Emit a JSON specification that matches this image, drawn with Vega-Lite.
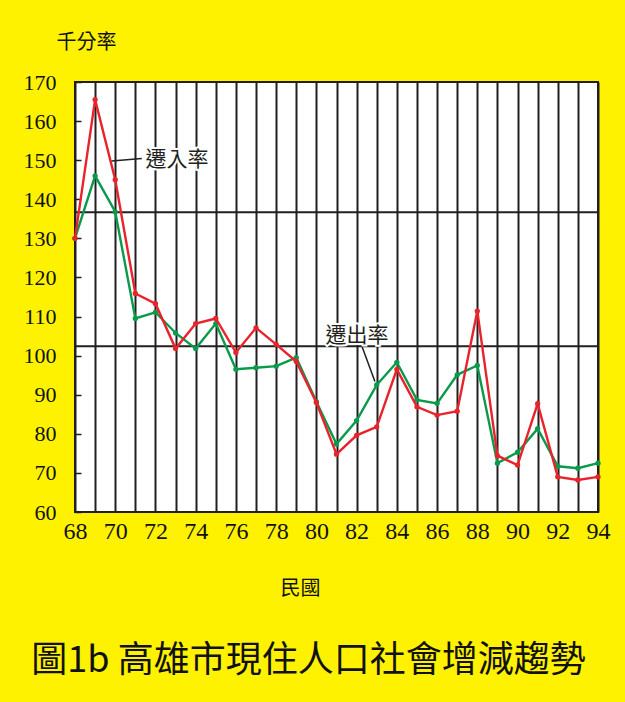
{
  "$schema": "https://vega.github.io/schema/vega-lite/v6.json",
  "width": 523,
  "height": 430,
  "autosize": {"type": "none"},
  "padding": {"left": 75, "top": 82, "right": 27, "bottom": 190},
  "background": "#fff200",
  "config": {
    "view": {"fill": "white", "stroke": "#231f20", "strokeWidth": 2},
    "font": "Noto Sans CJK TC"
  },
  "title": {
    "text": "圖1b 高雄市現住人口社會增減趨勢",
    "orient": "bottom",
    "anchor": "middle",
    "offset": 46,
    "dx": -28,
    "fontSize": 36,
    "fontWeight": "normal",
    "color": "#111111",
    "font": "Noto Sans CJK TC"
  },
  "datasets": {
    "rates": [
      {"year": 68, "series": "遷入率", "rate": 130}, {"year": 68, "series": "遷出率", "rate": 130},
      {"year": 69, "series": "遷入率", "rate": 165.5}, {"year": 69, "series": "遷出率", "rate": 146},
      {"year": 70, "series": "遷入率", "rate": 145}, {"year": 70, "series": "遷出率", "rate": 136.8},
      {"year": 71, "series": "遷入率", "rate": 115.9}, {"year": 71, "series": "遷出率", "rate": 109.5},
      {"year": 72, "series": "遷入率", "rate": 113.3}, {"year": 72, "series": "遷出率", "rate": 111.1},
      {"year": 73, "series": "遷入率", "rate": 101.8}, {"year": 73, "series": "遷出率", "rate": 105.8},
      {"year": 74, "series": "遷入率", "rate": 108.2}, {"year": 74, "series": "遷出率", "rate": 101.8},
      {"year": 75, "series": "遷入率", "rate": 109.5}, {"year": 75, "series": "遷出率", "rate": 108.2},
      {"year": 76, "series": "遷入率", "rate": 100.8}, {"year": 76, "series": "遷出率", "rate": 96.5},
      {"year": 77, "series": "遷入率", "rate": 107.1}, {"year": 77, "series": "遷出率", "rate": 96.9},
      {"year": 78, "series": "遷入率", "rate": 102.9}, {"year": 78, "series": "遷出率", "rate": 97.3},
      {"year": 79, "series": "遷入率", "rate": 98.5}, {"year": 79, "series": "遷出率", "rate": 99.5},
      {"year": 80, "series": "遷入率", "rate": 88}, {"year": 80, "series": "遷出率", "rate": 88.2},
      {"year": 81, "series": "遷入率", "rate": 74.8}, {"year": 81, "series": "遷出率", "rate": 77.4},
      {"year": 82, "series": "遷入率", "rate": 79.6}, {"year": 82, "series": "遷出率", "rate": 83.4},
      {"year": 83, "series": "遷入率", "rate": 81.8}, {"year": 83, "series": "遷出率", "rate": 92.5},
      {"year": 84, "series": "遷入率", "rate": 96.5}, {"year": 84, "series": "遷出率", "rate": 98.3},
      {"year": 85, "series": "遷入率", "rate": 86.9}, {"year": 85, "series": "遷出率", "rate": 88.7},
      {"year": 86, "series": "遷入率", "rate": 84.8}, {"year": 86, "series": "遷出率", "rate": 87.8},
      {"year": 87, "series": "遷入率", "rate": 85.8}, {"year": 87, "series": "遷出率", "rate": 95.1},
      {"year": 88, "series": "遷入率", "rate": 111.4}, {"year": 88, "series": "遷出率", "rate": 97.5},
      {"year": 89, "series": "遷入率", "rate": 74.4}, {"year": 89, "series": "遷出率", "rate": 72.5},
      {"year": 90, "series": "遷入率", "rate": 72}, {"year": 90, "series": "遷出率", "rate": 75.3},
      {"year": 91, "series": "遷入率", "rate": 87.7}, {"year": 91, "series": "遷出率", "rate": 81.3},
      {"year": 92, "series": "遷入率", "rate": 69}, {"year": 92, "series": "遷出率", "rate": 71.7},
      {"year": 93, "series": "遷入率", "rate": 68.2}, {"year": 93, "series": "遷出率", "rate": 71.2},
      {"year": 94, "series": "遷入率", "rate": 69}, {"year": 94, "series": "遷出率", "rate": 72.5}
    ],
    "refs": [
      {"year": 68, "year2": 94, "rate": 136.7},
      {"year": 68, "year2": 94, "rate": 102.4}
    ],
    "leaders": [
      {"year": 69.82, "rate": 149.8, "year2": 71.32, "rate2": 150.4},
      {"year": 82.25, "rate": 102.6, "year2": 82.91, "rate2": 93.4}
    ],
    "labels": [
      {"year": 71.5, "rate": 150, "text": "遷入率"},
      {"year": 80.45, "rate": 104.9, "text": "遷出率"}
    ]
  },
  "encoding": {
    "x": {
      "field": "year",
      "type": "quantitative",
      "scale": {"domain": [68, 94], "nice": false, "zero": false},
      "axis": {
        "values": [68, 69, 70, 71, 72, 73, 74, 75, 76, 77, 78, 79, 80, 81, 82, 83, 84, 85, 86, 87, 88, 89, 90, 91, 92, 93, 94],
        "labelExpr": "datum.value % 2 == 0 ? datum.label : ''",
        "grid": true,
        "gridColor": "#231f20",
        "gridWidth": 2,
        "gridOpacity": 1,
        "ticks": false,
        "domain": false,
        "labelFont": "Liberation Serif",
        "labelFontSize": 24,
        "labelColor": "#111111",
        "labelPadding": 7,
        "labelFlush": false,
        "labelOverlap": false,
        "title": "民國",
        "titleX": 225,
        "titleY": 76,
        "titleAlign": "center",
        "titleBaseline": "middle",
        "titleFontSize": 20,
        "titleFontWeight": "normal",
        "titleColor": "#111111",
        "titleFont": "Noto Sans CJK TC"
      }
    },
    "y": {
      "field": "rate",
      "type": "quantitative",
      "scale": {"domain": [60, 170], "nice": false, "zero": false},
      "axis": {
        "values": [60, 70, 80, 90, 100, 110, 120, 130, 140, 150, 160, 170],
        "grid": false,
        "domain": false,
        "ticks": true,
        "tickSize": -6,
        "tickColor": "#231f20",
        "tickWidth": 1.5,
        "labelFont": "Liberation Serif",
        "labelFontSize": 22,
        "labelColor": "#111111",
        "labelPadding": 25,
        "labelFlush": false,
        "labelOverlap": false,
        "title": "千分率",
        "titleAngle": 0,
        "titleX": 11,
        "titleY": -40,
        "titleAlign": "center",
        "titleBaseline": "middle",
        "titleFontSize": 20,
        "titleFontWeight": "normal",
        "titleColor": "#111111",
        "titleFont": "Noto Sans CJK TC"
      }
    }
  },
  "layer": [
    {
      "data": {"name": "refs"},
      "mark": {"type": "rule", "color": "#231f20", "strokeWidth": 2},
      "encoding": {"x2": {"field": "year2"}}
    },
    {
      "data": {"name": "rates"},
      "transform": [{"filter": "datum.series == '遷出率'"}],
      "mark": {"type": "line", "color": "#0b9a4c", "strokeWidth": 2.4, "point": {"filled": true, "size": 28, "color": "#0b9a4c"}}
    },
    {
      "data": {"name": "rates"},
      "transform": [{"filter": "datum.series == '遷入率'"}],
      "mark": {"type": "line", "color": "#e8232b", "strokeWidth": 2.4, "point": {"filled": true, "size": 28, "color": "#e8232b"}}
    },
    {
      "data": {"name": "leaders"},
      "mark": {"type": "rule", "color": "#231f20", "strokeWidth": 1.5},
      "encoding": {"x2": {"field": "year2"}, "y2": {"field": "rate2"}}
    },
    {
      "data": {"name": "labels"},
      "mark": {"type": "text", "align": "left", "baseline": "middle", "fontSize": 21, "font": "Noto Sans CJK TC", "stroke": "white", "strokeWidth": 4, "fill": "white"},
      "encoding": {"text": {"field": "text"}}
    },
    {
      "data": {"name": "labels"},
      "mark": {"type": "text", "align": "left", "baseline": "middle", "fontSize": 21, "font": "Noto Sans CJK TC", "fill": "#231f20"},
      "encoding": {"text": {"field": "text"}}
    }
  ]
}
